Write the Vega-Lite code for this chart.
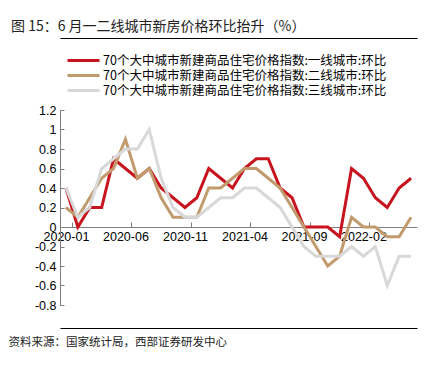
{
  "$schema": "https://vega.github.io/schema/vega-lite/v6.json",
  "width": 357,
  "height": 195,
  "autosize": {"type": "none"},
  "padding": {"left": 60, "top": 110, "right": 22, "bottom": 63},
  "background": "#ffffff",
  "config": {"view": {"stroke": null}, "font": "Liberation Sans"},
  "title": {
    "text": "图 15：6 月一二线城市新房价格环比抬升（%）",
    "anchor": "start",
    "frame": "group",
    "dx": -49,
    "offset": 4,
    "font": "Noto Sans CJK SC",
    "fontSize": 14,
    "fontWeight": "normal",
    "color": "#222222"
  },
  "data": {
    "values": [
      {"month": "2020-01", "一线城市": 0.4, "二线城市": 0.2, "三线城市": 0.4},
      {"month": "2020-02", "一线城市": 0.0, "二线城市": 0.1, "三线城市": 0.1},
      {"month": "2020-03", "一线城市": 0.2, "二线城市": 0.3, "三线城市": 0.2},
      {"month": "2020-04", "一线城市": 0.2, "二线城市": 0.5, "三线城市": 0.6},
      {"month": "2020-05", "一线城市": 0.7, "二线城市": 0.6, "三线城市": 0.7},
      {"month": "2020-06", "一线城市": 0.6, "二线城市": 0.9, "三线城市": 0.8},
      {"month": "2020-07", "一线城市": 0.5, "二线城市": 0.5, "三线城市": 0.8},
      {"month": "2020-08", "一线城市": 0.6, "二线城市": 0.6, "三线城市": 1.0},
      {"month": "2020-09", "一线城市": 0.4, "二线城市": 0.3, "三线城市": 0.5},
      {"month": "2020-10", "一线城市": 0.3, "二线城市": 0.1, "三线城市": 0.2},
      {"month": "2020-11", "一线城市": 0.2, "二线城市": 0.1, "三线城市": 0.1},
      {"month": "2020-12", "一线城市": 0.3, "二线城市": 0.1, "三线城市": 0.1},
      {"month": "2021-01", "一线城市": 0.6, "二线城市": 0.4, "三线城市": 0.2},
      {"month": "2021-02", "一线城市": 0.5, "二线城市": 0.4, "三线城市": 0.3},
      {"month": "2021-03", "一线城市": 0.4, "二线城市": 0.5, "三线城市": 0.3},
      {"month": "2021-04", "一线城市": 0.6, "二线城市": 0.6, "三线城市": 0.4},
      {"month": "2021-05", "一线城市": 0.7, "二线城市": 0.6, "三线城市": 0.4},
      {"month": "2021-06", "一线城市": 0.7, "二线城市": 0.5, "三线城市": 0.3},
      {"month": "2021-07", "一线城市": 0.4, "二线城市": 0.4, "三线城市": 0.2},
      {"month": "2021-08", "一线城市": 0.3, "二线城市": 0.2, "三线城市": 0.0},
      {"month": "2021-09", "一线城市": 0.0, "二线城市": 0.0, "三线城市": -0.2},
      {"month": "2021-10", "一线城市": 0.0, "二线城市": -0.2, "三线城市": -0.3},
      {"month": "2021-11", "一线城市": 0.0, "二线城市": -0.4, "三线城市": -0.3},
      {"month": "2021-12", "一线城市": -0.1, "二线城市": -0.3, "三线城市": -0.3},
      {"month": "2022-01", "一线城市": 0.6, "二线城市": 0.1, "三线城市": -0.2},
      {"month": "2022-02", "一线城市": 0.5, "二线城市": 0.0, "三线城市": -0.3},
      {"month": "2022-03", "一线城市": 0.3, "二线城市": 0.0, "三线城市": -0.2},
      {"month": "2022-04", "一线城市": 0.2, "二线城市": -0.1, "三线城市": -0.6},
      {"month": "2022-05", "一线城市": 0.4, "二线城市": -0.1, "三线城市": -0.3},
      {"month": "2022-06", "一线城市": 0.5, "二线城市": 0.1, "三线城市": -0.3}
    ]
  },
  "transform": [
    {"fold": ["一线城市", "二线城市", "三线城市"], "as": ["series", "value"]}
  ],
  "layer": [
    {
      "mark": {"type": "line", "strokeWidth": 3},
      "encoding": {
        "x": {
          "field": "month",
          "type": "ordinal",
          "scale": {"type": "band", "paddingInner": 0, "paddingOuter": 0},
          "axis": {
            "orient": "bottom",
            "offset": -78,
            "values": ["2020-01", "2020-06", "2020-11", "2021-04", "2021-09", "2022-02"],
            "tickBand": "extent",
            "tickSize": -5,
            "tickColor": "#808080",
            "domainColor": "#808080",
            "labelAngle": 0,
            "labelFontSize": 12.5,
            "labelColor": "#000000",
            "labelPadding": 8,
            "title": null
          }
        },
        "y": {
          "field": "value",
          "type": "quantitative",
          "scale": {"domain": [-0.8, 1.2], "nice": false, "zero": false},
          "axis": {
            "values": [-0.8, -0.6, -0.4, -0.2, 0, 0.2, 0.4, 0.6, 0.8, 1, 1.2],
            "labelExpr": "'' + round(datum.value * 10) / 10",
            "tickSize": -4,
            "tickColor": "#808080",
            "domainColor": "#808080",
            "labelFontSize": 12.5,
            "labelColor": "#000000",
            "labelPadding": 8,
            "grid": false,
            "title": null
          }
        },
        "color": {
          "field": "series",
          "type": "nominal",
          "scale": {
            "domain": ["一线城市", "二线城市", "三线城市"],
            "range": ["#C8141E", "#C19B6E", "#D8D8D8"]
          },
          "legend": {
            "orient": "none",
            "legendX": 17,
            "legendY": -56,
            "title": null,
            "symbolType": "M-3.2,0H3.2",
            "symbolSize": 100,
            "symbolStrokeWidth": 3,
            "labelExpr": "'70个大中城市新建商品住宅价格指数:' + datum.label + ':环比'",
            "labelFont": "Noto Sans CJK SC",
            "labelFontSize": 12.5,
            "labelColor": "#000000",
            "labelLimit": 400,
            "labelOffset": 13,
            "rowPadding": 2,
            "padding": 0
          }
        }
      }
    },
    {
      "mark": {"type": "point", "opacity": 0},
      "encoding": {
        "x": {
          "field": "month",
          "type": "ordinal",
          "axis": {
            "orient": "top",
            "offset": 72,
            "labels": false,
            "ticks": false,
            "domainColor": "#000000",
            "domainWidth": 1.2,
            "title": null
          }
        }
      }
    },
    {
      "mark": {"type": "point", "opacity": 0},
      "encoding": {
        "x": {
          "field": "month",
          "type": "ordinal",
          "axis": {
            "orient": "bottom",
            "offset": 23,
            "labels": false,
            "ticks": false,
            "domainColor": "#000000",
            "domainWidth": 1.2,
            "title": "资料来源：国家统计局，西部证券研发中心",
            "titleFont": "Noto Sans CJK SC",
            "titleFontSize": 11.5,
            "titleFontWeight": "normal",
            "titleColor": "#222222",
            "titleAnchor": "start",
            "titleAlign": "left",
            "titleBaseline": "middle",
            "titleX": -52,
            "titleY": 14
          }
        }
      }
    }
  ],
  "resolve": {"axis": {"x": "independent"}}
}
